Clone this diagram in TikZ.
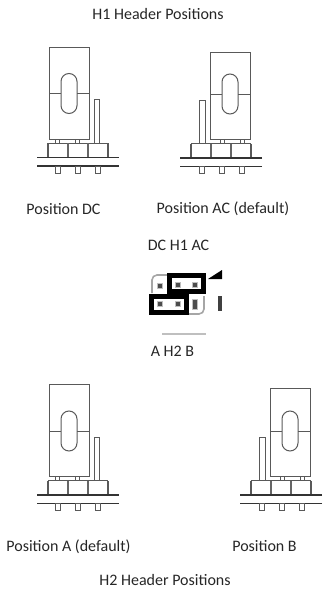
\documentclass[tikz,border=0pt]{standalone}
\usepackage{fontspec}
\setmainfont{Carlito}
\tikzset{
  lbl/.style={inner sep=0pt,font=\fontsize{12}{14}\selectfont,text=black!85},
  thinln/.style={draw=black!65,line width=0.75pt},
  boardln/.style={draw=black!80,line width=0.8pt},
  divln/.style={draw=black!60,line width=2.2pt},
  edgeln/.style={draw=black!65,line width=1.5pt},
  jmpbox/.style={draw=black,line width=3.6pt},
  pinbox/.style={draw=black!35,line width=1.2pt,rounded corners=1.5pt},
  pindot/.style={fill=black!70,draw=black!25,line width=0.6pt}
}
% #1 centre x, #2 board y, #3 mirror, #4 jumper top
\newcommand{\headerpos}[4]{
\begin{scope}[shift={(#1,#2)},xscale=#3]
\draw [thinln] (-29,-18.5) rectangle (11,#4);
\draw [thinln] (-29,-64) -- (-17,-64);
\draw [thinln] (-1,-64) -- (11,-64);
\draw [thinln,rounded corners=6pt] (-17,-84) rectangle (-1,-44);
\draw [thinln] (-23,-18.5) -- (-23,-14.5) (-19,-18.5) -- (-19,-14.5);
\draw [thinln] (-3,-18.5) -- (-3,-14.5) (1,-18.5) -- (1,-14.5);
\draw [thinln] (16,-14.5) rectangle (21.5,-58);
\draw [thinln] (-30,-14.5) -- (30,-14.5);
\draw [edgeln] (-30,0) -- (-30,-14.5);
\draw [divln] (-10,0) -- (-10,-14.5);
\draw [divln] (10,0) -- (10,-14.5);
\draw [edgeln] (30,0) -- (30,-14.5);
\draw [boardln] (-41,0) -- (41,0);
\draw [boardln] (-41,8.5) -- (41,8.5);
\draw [thinln] (-23,8.5) rectangle (-18,15.5);
\draw [thinln] (-3,8.5) rectangle (2,15.5);
\draw [thinln] (17,8.5) rectangle (22,15.5);
\end{scope}
}
\begin{document}
\begin{tikzpicture}[x=0.75pt,y=-0.75pt]
\useasboundingbox (0,0) rectangle (323,589);
\node [lbl] (titleA) at (158,14) {H1 Header Positions};
\node [lbl] (posDC) at (63.5,209) {Position DC};
\node [lbl] (posAC) at (223,209) {Position AC (default)};
\node [lbl] (hdrA) at (178.5,245) {DC H1 AC};
\node [lbl] (hdrB) at (172.5,351) {A H2 B};
\node [lbl] (posA) at (68.5,547) {Position A (default)};
\node [lbl] (posB) at (264.5,546) {Position B};
\node [lbl] (titleB) at (165,580) {H2 Header Positions};
\headerpos{78}{157.5}{1}{-110.5}
\headerpos{221}{158}{-1}{-106}
\headerpos{78}{495}{1}{-111}
\headerpos{281}{495}{-1}{-107}
% jumper map in the middle
\draw [pinbox] (152,293) -- (152,278) -- (155,275) -- (167,275);
\draw [pinbox] (204,296) -- (204,311) -- (201,314) -- (189,314);
\fill [pindot] (157.5,283.5) rectangle (162.5,288.5);
\fill [pindot] (175,282.5) rectangle (180,287.5);
\fill [pindot] (192,282.5) rectangle (197,287.5);
\fill [pindot] (157.5,301.5) rectangle (162.5,306.5);
\fill [pindot] (175,301.5) rectangle (180,306.5);
\fill [pindot] (192.5,299) rectangle (197.5,309);
\draw [jmpbox] (169.5,275.5) rectangle (203.5,291.5);
\draw [jmpbox] (151.5,296.5) rectangle (186.5,312.5);
\fill [black] (208,279) -- (222,270) -- (222,279) -- cycle;
\fill [black!75] (217.5,296) rectangle (222,311);
\draw [draw=black!25,line width=0.8pt] (162,334) -- (206,334);
\end{tikzpicture}
\end{document}
